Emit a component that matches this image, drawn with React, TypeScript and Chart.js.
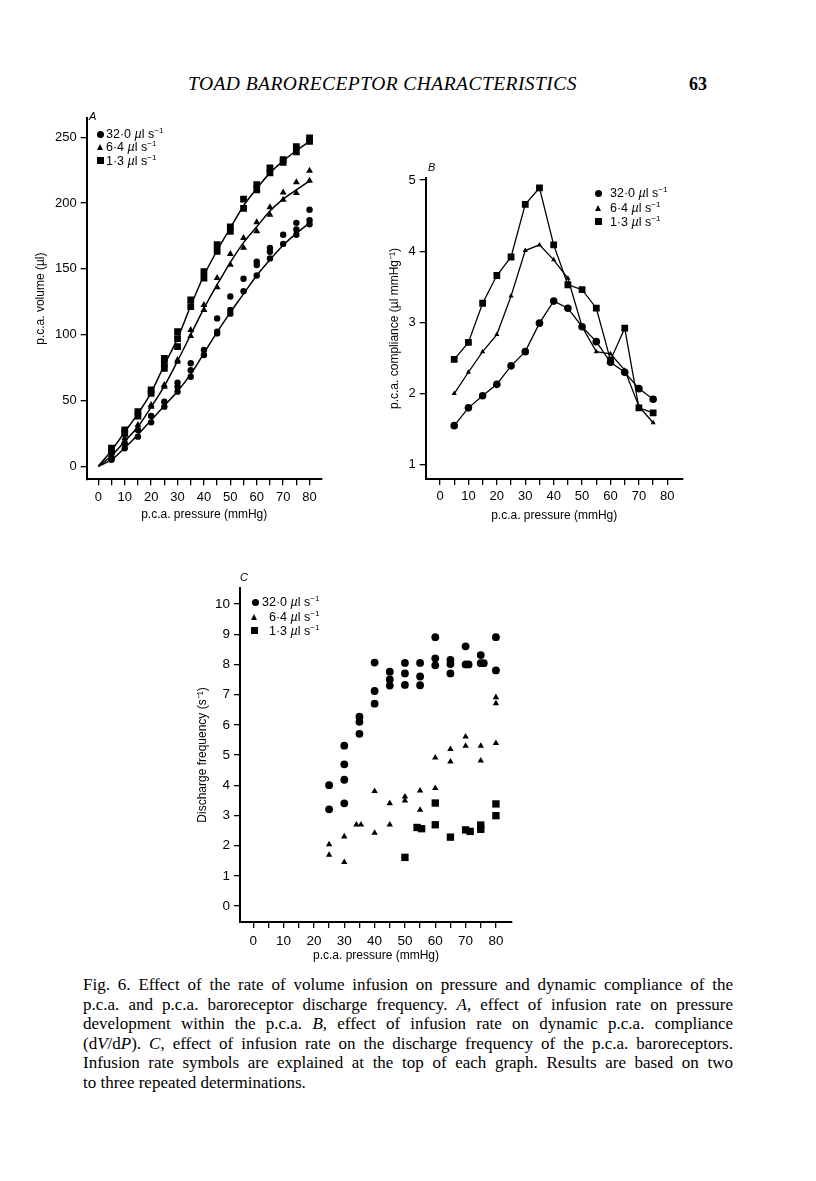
import React, { useEffect, useRef } from 'react';
import { Chart, registerables } from 'chart.js';

Chart.register(...registerables);

const SANS = "'Liberation Sans', Arial, Helvetica, sans-serif";
const SERIF = "'Liberation Serif', 'Times New Roman', serif";

// ---------- Panel A : p.c.a. volume vs pressure ----------
const A_PRESSURE = [5, 10, 15, 20, 25, 30, 35, 40, 45, 50, 55, 60, 65, 70, 75, 80];
const A_VOL_32_R1 = [6, 17.5, 27.6, 38.3, 49, 63.5, 78.3, 88.4, 112.4, 129, 142.5, 155.5, 166, 176, 185, 195];
const A_VOL_32_R2 = [5, 13.7, 22.5, 33.4, 45.3, 60.5, 73, 84.6, 102.3, 118.8, 133, 153, 163, 169, 180, 187];
const A_VOL_32_R3 = [null, null, null, null, null, 56.7, 68, null, 101, 116, null, 145, 158, null, 176, 184];
const A_VOL_64_R1 = [8.6, 21.3, 31.4, 46.6, 61.8, 80.8, 103.6, 122.6, 143, 161.3, 173.5, 185.4, 196.8, 208, 215.8, 224.6];
const A_VOL_64_R2 = [7, 18.7, 27.6, 45.3, 60.5, 79.5, 99, 118.8, 136, 153.2, 166, 178.6, 191.2, 202.6, 207.7, 217];
const A_VOL_13_R1 = [13.7, 27.6, 41.5, 58, 82, 102.3, 126.4, 148, 168.4, 182, 203, 214, 226.7, 233, 243, 249.5];
const A_VOL_13_R2 = [11, 25, 38.2, 55.5, 74.5, 91, 121.3, 143, 163.4, 178.6, 196, 210, 223, 231, 239, 247];
const A_VOL_13_R3 = [null, null, null, null, 78, 97, null, null, null, null, null, null, null, null, null, null];
const A_FIT_PRESSURE = [0, 5, 10, 15, 20, 25, 30, 35, 40, 45, 50, 55, 60, 65, 70, 75, 80];
const A_FIT_32 = [0, 5, 14, 24, 35, 46, 57, 70, 86, 102, 117, 131, 145, 157, 168, 177, 185];
const A_FIT_64 = [0, 8, 19, 30, 45, 61, 80, 100, 120, 138, 155, 170, 182, 194, 203, 210, 217];
const A_FIT_13 = [0, 12, 26, 40, 56, 77, 97, 122, 145, 164, 181, 198, 211, 223, 232, 240, 247];
const A_X_TICKS = [0, 5, 10, 15, 20, 25, 30, 35, 40, 45, 50, 55, 60, 65, 70, 75, 80];
const A_Y_TICKS = [0, 50, 100, 150, 200, 250];

// ---------- Panel B : compliance vs pressure ----------
const B_PRESSURE = [5, 10, 15, 20, 25, 30, 35, 40, 45, 50, 55, 60, 65, 70, 75];
const B_COMP_32 = [1.55, 1.8, 1.97, 2.13, 2.39, 2.59, 2.99, 3.3, 3.2, 2.94, 2.73, 2.44, 2.3, 2.07, 1.92];
const B_COMP_64 = [2.0, 2.3, 2.59, 2.83, 3.37, 4.01, 4.09, 3.88, 3.62, 2.94, 2.59, 2.56, 2.33, 1.82, 1.59];
const B_COMP_13 = [2.48, 2.72, 3.27, 3.66, 3.92, 4.66, 4.89, 4.09, 3.53, 3.46, 3.2, 2.47, 2.92, 1.8, 1.73];
const B_X_TICKS = [0, 5, 10, 15, 20, 25, 30, 35, 40, 45, 50, 55, 60, 65, 70, 75, 80];
const B_Y_TICKS = [1, 2, 3, 4, 5];

// ---------- Panel C : discharge frequency vs pressure ----------
const C_32_X = [25, 25, 30, 30, 30, 30, 35, 35, 35, 40, 40, 40, 45, 45, 45, 50, 50, 50, 55, 55, 55, 60, 60, 60, 65, 65, 65, 70, 70, 71, 75, 75, 76, 80, 80];
const C_32_Y = [4.0, 3.2, 5.31, 4.69, 4.18, 3.4, 6.27, 6.1, 5.7, 8.06, 7.12, 6.7, 7.76, 7.5, 7.3, 8.05, 7.7, 7.32, 8.05, 7.6, 7.31, 8.9, 8.2, 7.97, 8.15, 8.01, 7.7, 8.6, 8.0, 8.0, 8.31, 8.04, 8.04, 8.9, 7.8];
const C_64_X = [25, 25, 30, 30, 34, 35.5, 40, 40, 45, 45, 50, 50, 55, 55, 60, 60, 65, 65, 70, 70, 75, 75, 80, 80, 80];
const C_64_Y = [2.04, 1.69, 2.3, 1.45, 2.69, 2.69, 3.8, 2.42, 3.4, 2.69, 3.62, 3.49, 3.82, 3.18, 4.91, 3.9, 5.19, 4.78, 5.61, 5.3, 5.3, 4.81, 6.91, 6.71, 5.39];
const C_13_X = [50, 54, 55.5, 60, 60, 65, 70, 71.5, 75, 75, 80, 80];
const C_13_Y = [1.61, 2.6, 2.56, 3.41, 2.69, 2.28, 2.52, 2.47, 2.68, 2.54, 3.38, 2.99];
const C_X_TICKS = [0, 5, 10, 15, 20, 25, 30, 35, 40, 45, 50, 55, 60, 65, 70, 75, 80];
const C_Y_TICKS = [0, 1, 2, 3, 4, 5, 6, 7, 8, 9, 10];

const RATE_LABELS = ['32·0', '6·4', '1·3'];

const CAPTION_LINES = [
  ['Fig. 6. Effect of the rate of volume infusion on pressure and dynamic compliance of the'],
  ['p.c.a. and p.c.a. baroreceptor discharge frequency. ', { i: 'A' }, ', effect of infusion rate on pressure'],
  ['development within the p.c.a. ', { i: 'B' }, ', effect of infusion rate on dynamic p.c.a. compliance'],
  ['(d', { i: 'V' }, '/d', { i: 'P' }, '). ', { i: 'C' }, ', effect of infusion rate on the discharge frequency of the p.c.a. baroreceptors.'],
  ['Infusion rate symbols are explained at the top of each graph. Results are based on two'],
  ['to three repeated determinations.'],
];

function pts(xs: number[], ys: (number | null)[]) {
  return xs
    .map((x, i) => ({ x, y: ys[i] }))
    .filter((p) => p.y !== null && p.y !== undefined);
}

function scale(o: any) {
  return {
    type: 'linear',
    position: o.horizontal ? 'bottom' : 'left',
    min: o.min,
    max: o.max,
    afterBuildTicks: (s: any) => {
      s.ticks = o.ticks.map((v: number) => ({ value: v }));
    },
    afterFit: (s: any) => {
      if (o.horizontal) s.height = o.size;
      else s.width = o.size;
    },
    ticks: {
      color: '#000',
      font: { family: SANS, size: o.tickSize },
      padding: o.tickPad,
      autoSkip: false,
      maxRotation: 0,
      minRotation: 0,
      callback: (v: any) => (o.labelEvery && Number(v) % o.labelEvery !== 0 ? '' : String(v)),
    },
    grid: {
      display: true,
      drawOnChartArea: false,
      drawTicks: true,
      tickLength: 6,
      tickWidth: 1.3,
      color: '#000',
      lineWidth: 1.3,
    },
    border: { display: true, color: '#000', width: 2 },
    title: {
      display: true,
      text: o.title,
      color: '#000',
      font: { family: SANS, size: 12 },
      padding: { top: o.titlePad, bottom: o.titlePad },
    },
  };
}

function marks(data: any[], style: string, radius: number, line = false) {
  return {
    data,
    pointStyle: style,
    pointRadius: radius,
    pointBackgroundColor: '#000',
    pointBorderColor: '#000',
    pointBorderWidth: 0,
    showLine: line,
    borderColor: '#000',
    backgroundColor: '#000',
    borderWidth: 1.3,
    tension: 0,
  };
}

function fit(data: any[]) {
  return {
    data,
    showLine: true,
    pointRadius: 0,
    borderColor: '#000',
    borderWidth: 1.5,
    cubicInterpolationMode: 'monotone',
    fill: false,
  };
}

function baseOptions(padding: any, x: any, y: any) {
  return {
    responsive: false,
    animation: false,
    devicePixelRatio: 1,
    events: [],
    layout: { padding },
    plugins: { legend: { display: false }, tooltip: { enabled: false } },
    scales: { x, y },
  };
}

function configA() {
  return {
    type: 'scatter',
    data: {
      datasets: [
        marks(pts(A_PRESSURE, A_VOL_32_R1), 'circle', 3.2),
        marks(pts(A_PRESSURE, A_VOL_32_R2), 'circle', 3.2),
        marks(pts(A_PRESSURE, A_VOL_32_R3), 'circle', 3.2),
        marks(pts(A_PRESSURE, A_VOL_64_R1), 'triangle', 4),
        marks(pts(A_PRESSURE, A_VOL_64_R2), 'triangle', 4),
        marks(pts(A_PRESSURE, A_VOL_13_R1), 'rect', 4.8),
        marks(pts(A_PRESSURE, A_VOL_13_R2), 'rect', 4.8),
        marks(pts(A_PRESSURE, A_VOL_13_R3), 'rect', 4.8),
        fit(pts(A_FIT_PRESSURE, A_FIT_32)),
        fit(pts(A_FIT_PRESSURE, A_FIT_64)),
        fit(pts(A_FIT_PRESSURE, A_FIT_13)),
      ],
    },
    options: baseOptions(
      { left: 0, top: 18, right: 18.3, bottom: 0 },
      scale({ horizontal: true, min: -4.4, max: 84.6, ticks: A_X_TICKS, labelEvery: 10, size: 50.7, tickSize: 13, tickPad: 4, title: 'p.c.a. pressure (mmHg)', titlePad: 7.8 }),
      scale({ horizontal: false, min: -9.9, max: 264.7, ticks: A_Y_TICKS, size: 56.7, tickSize: 13, tickPad: 4, title: 'p.c.a. volume (µl)', titlePad: 3 })
    ),
  };
}

function configB() {
  return {
    type: 'scatter',
    data: {
      datasets: [
        marks(pts(B_PRESSURE, B_COMP_32), 'circle', 3.8, true),
        marks(pts(B_PRESSURE, B_COMP_64), 'triangle', 3, true),
        marks(pts(B_PRESSURE, B_COMP_13), 'rect', 4.8, true),
      ],
    },
    options: baseOptions(
      { left: 0, top: 28, right: 17.3, bottom: 0 },
      scale({ horizontal: true, min: -5.03, max: 85.4, ticks: B_X_TICKS, labelEvery: 10, size: 51, tickSize: 13, tickPad: 4, title: 'p.c.a. pressure (mmHg)', titlePad: 7.1 }),
      scale({ horizontal: false, min: 0.8, max: 5.03, ticks: B_Y_TICKS, size: 45.7, tickSize: 13, tickPad: 4, title: 'p.c.a. compliance (µl mmHg⁻¹)', titlePad: 7.8 })
    ),
  };
}

function configC() {
  return {
    type: 'scatter',
    data: {
      datasets: [
        marks(pts(C_32_X, C_32_Y), 'circle', 3.9),
        marks(pts(C_64_X, C_64_Y), 'triangle', 3.7),
        marks(pts(C_13_X, C_13_Y), 'rect', 5.2),
      ],
    },
    options: baseOptions(
      { left: 0, top: 18, right: 18, bottom: 0 },
      scale({ horizontal: true, min: -4.38, max: 85.3, ticks: C_X_TICKS, labelEvery: 10, size: 48, tickSize: 13.5, tickPad: 5, title: 'p.c.a. pressure (mmHg)', titlePad: 6.8 }),
      scale({ horizontal: false, min: -0.53, max: 10.53, ticks: C_Y_TICKS, size: 50, tickSize: 13.5, tickPad: 4, title: 'Discharge frequency (s⁻¹)', titlePad: 5.8 })
    ),
  };
}

function ChartPanel({ left, top, width, height, make }: any) {
  const ref = useRef<HTMLCanvasElement>(null);
  useEffect(() => {
    const chart = new Chart(ref.current as HTMLCanvasElement, make() as any);
    return () => chart.destroy();
  }, []);
  return (
    <canvas
      ref={ref}
      width={width}
      height={height}
      style={{ position: 'absolute', left, top, width, height }}
    />
  );
}

function Marker({ shape, cx, cy }: any) {
  if (shape === 'circle') {
    return <div style={{ position: 'absolute', left: cx - 3.5, top: cy - 3.5, width: 7, height: 7, borderRadius: '50%', background: '#000' }} />;
  }
  if (shape === 'triangle') {
    return (
      <div
        style={{
          position: 'absolute',
          left: cx - 3.5,
          top: cy - 3,
          width: 0,
          height: 0,
          borderLeft: '3.5px solid transparent',
          borderRight: '3.5px solid transparent',
          borderBottom: '6px solid #000',
        }}
      />
    );
  }
  return <div style={{ position: 'absolute', left: cx - 3.5, top: cy - 3.5, width: 7, height: 7, background: '#000' }} />;
}

function Rate({ label, x, y }: any) {
  return (
    <div style={{ position: 'absolute', left: x, top: y - 8, height: 16, lineHeight: '16px', fontFamily: SANS, fontSize: 12.5, whiteSpace: 'nowrap', color: '#000' }}>
      {label} <i>µ</i>l s
      <span style={{ fontSize: 8, position: 'relative', top: -5 }}>−1</span>
    </div>
  );
}

function Legend({ rows }: any) {
  const shapes = ['circle', 'triangle', 'rect'];
  return (
    <>
      {rows.map((r: any, i: number) => (
        <React.Fragment key={i}>
          <Marker shape={shapes[i]} cx={r.mx} cy={r.y} />
          <Rate label={RATE_LABELS[i]} x={r.tx} y={r.y} />
        </React.Fragment>
      ))}
    </>
  );
}

function PanelLetter({ text, x, y }: any) {
  return (
    <div style={{ position: 'absolute', left: x - 4, top: y - 7, lineHeight: '14px', fontFamily: SANS, fontSize: 11, fontStyle: 'italic', color: '#000' }}>
      {text}
    </div>
  );
}

const CAPTION_Y = [985, 1004.5, 1024, 1043.5, 1063, 1082.5];

export default function App() {
  return (
    <div style={{ position: 'absolute', left: 0, top: 0, width: 816, height: 1181, background: '#fff', overflow: 'hidden', color: '#000' }}>
      <div style={{ position: 'absolute', left: 188, top: 73, lineHeight: '22px', fontFamily: SERIF, fontStyle: 'italic', fontSize: 19.5, letterSpacing: 0.45, whiteSpace: 'nowrap' }}>
        TOAD BARORECEPTOR CHARACTERISTICS
      </div>
      <div style={{ position: 'absolute', left: 689, top: 73, lineHeight: '22px', fontFamily: SERIF, fontWeight: 'bold', fontSize: 18 }}>63</div>

      <ChartPanel left={30} top={100} width={310} height={430} make={configA} />
      <PanelLetter text="A" x={93} y={116} />
      <Legend rows={[{ mx: 100, tx: 106, y: 134 }, { mx: 100, tx: 106, y: 147.3 }, { mx: 100, tx: 106, y: 160.7 }]} />

      <ChartPanel left={380} top={150} width={320} height={380} make={configB} />
      <PanelLetter text="B" x={432} y={166.5} />
      <Legend rows={[{ mx: 598, tx: 610, y: 193 }, { mx: 598, tx: 610, y: 207.5 }, { mx: 598, tx: 610, y: 221.5 }]} />

      <ChartPanel left={190} top={570} width={340} height={400} make={configC} />
      <PanelLetter text="C" x={244} y={577} />
      <Legend rows={[{ mx: 255, tx: 262, y: 602.3 }, { mx: 254, tx: 269, y: 616.7 }, { mx: 254, tx: 269, y: 630.7 }]} />

      {CAPTION_LINES.map((parts, li) => (
        <div
          key={li}
          style={{
            position: 'absolute',
            left: 83,
            top: CAPTION_Y[li] - 10,
            width: 650,
            lineHeight: '20px',
            fontFamily: SERIF,
            fontSize: 17,
            textAlign: 'justify',
            textAlignLast: li === CAPTION_LINES.length - 1 ? 'left' : 'justify',
          }}
        >
          {parts.map((p: any, k: number) => (typeof p === 'string' ? <React.Fragment key={k}>{p}</React.Fragment> : <i key={k}>{p.i}</i>))}
        </div>
      ))}
    </div>
  );
}
